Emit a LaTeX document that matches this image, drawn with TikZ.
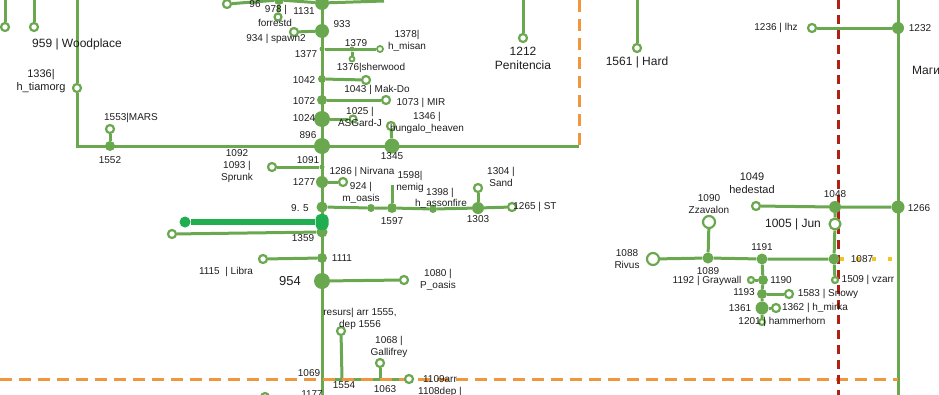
\documentclass[tikz,border=0pt]{standalone}
\usepackage{fontspec}
\setmainfont{Liberation Sans}
\usetikzlibrary{backgrounds}
\definecolor{lgreen}{RGB}{106,168,79}
\definecolor{bgreen}{RGB}{32,174,80}
\definecolor{dorange}{RGB}{240,150,60}
\definecolor{dred}{RGB}{178,32,20}
\definecolor{dyellow}{RGB}{245,195,40}
\definecolor{ink}{RGB}{30,30,30}

\begin{document}
\begin{tikzpicture}[
  x=1pt, y=-1pt,
  every node/.style={font=\fontsize{10}{12}\selectfont, text=ink, inner sep=0pt, align=center},
  big/.style={font=\fontsize{12}{14}\selectfont},
  route/.style={draw=lgreen, line width=3pt},
  hub/.style={circle, fill=lgreen, minimum size=#1},
  hub/.default=12pt,
  term/.style={circle, draw=lgreen, fill=white, line width=2.2pt, minimum size=#1},
  term/.default=8pt
]
\useasboundingbox (0,0) rectangle (939,394);

% ── Top strip ─────────────────────────────────────────────────────────────
\node[term] (n96) at (227,4) {};
\node (l96) at (255,4) {96};
\node[hub=10pt] (n978) at (279,0) {};
\node[term=7pt] (n978b) at (278,17) {};
\node (l978) at (276,10) {978 |};
\node (lforrest) at (275,23) {forrestd};
\node[hub=14pt] (n1131) at (322,3) {};
\node (l1131) at (304,11) {1131};
\coordinate (topE) at (384,1);

% ── Top left ──────────────────────────────────────────────────────────────
\coordinate (a5) at (5,-5);
\coordinate (a34) at (34,-5);
\coordinate (a77) at (77,-5);
\node[term] (n957) at (5,27) {};
\node[term] (n959) at (34,27) {};
\node[big] (l959) at (77,44) {959 | Woodplace};
\node[term] (n1336) at (77,88) {};
\node[big, font=\fontsize{11}{13}\selectfont] (l1336) at (41,81) {1336|\\h\_tiamorg};
\coordinate (w896) at (77,146);
\coordinate (e896) at (579,146);
\node[hub=10pt] (n1552) at (110,146) {};
\node (l1552) at (110,160) {1552};
\node[term] (n1553) at (110,129) {};
\node (l1553) at (131,118) {1553|MARS};

% ── Main trunk, upper part ───────────────────────────────────────────────
\coordinate (ttop) at (322,-5);
\coordinate (tbot) at (322,400);
\node[hub=14pt] (n933) at (322,31) {};
\node (l933) at (342,24) {933};
\node[term] (n934) at (294,32) {};
\node (l934) at (276,39) {934 | spawn2};
\node[hub=5pt] (n1377) at (322,49) {};
\node (l1377) at (306,54) {1377};
\node[hub=5pt] (n1379) at (352,49) {};
\node (l1379) at (356,43) {1379};
\node[term=5pt, line width=1.8pt] (n1376) at (352,59) {};
\node (l1376) at (371,68) {1376|sherwood};
\node[term=6pt, line width=1.8pt] (n1378) at (380,49) {};
\node (l1378) at (407,41) {1378|\\h\_misan};
\node[hub=8pt] (n1042) at (322,79) {};
\node (l1042) at (304,80) {1042};
\node[term] (n1043) at (366,80) {};
\node (l1043) at (377,90) {1043 | Mak-Do};
\node[hub=10pt] (n1072) at (322,100) {};
\node (l1072) at (304,101) {1072};
\node[term] (n1073) at (386,100) {};
\node (l1073) at (421,103) {1073 | MIR};
\node[hub=16pt] (n1024) at (322,119) {};
\node (l1024) at (304,118) {1024};
\node[term=7pt] (n1025) at (353,119) {};
\node (l1025) at (360,117) {1025 |\\ASGard-J};
\node[hub=16pt] (n896) at (322,146) {};
\node (l896) at (308,135) {896};
\node[hub=15pt] (n1345) at (392,146) {};
\node (l1345) at (392,156) {1345};
\node[term] (n1346) at (391,126) {};
\node (l1346) at (427,123) {1346 |\\bungalo\_heaven};

% ── Main trunk, middle part ──────────────────────────────────────────────
\node[hub=5pt] (n1091) at (322,167) {};
\node (l1091) at (308,160) {1091};
\node[term] (n1093) at (272,167) {};
\node (l1093) at (237,166) {1092\\1093 |\\Sprunk};
\node[hub=12pt] (n1277) at (322,182) {};
\node (l1277) at (304,182) {1277};
\node[term] (n924) at (343,182) {};
\node (l1286) at (362,172) {1286 | Nirvana};
\node (l924) at (361,193) {924 |\\m\_oasis};
\node[hub=11pt] (n955) at (322,207) {};
\node (l955) at (300,208) {9. 5};
\node[hub=8pt] (n1599) at (371,208) {};
\node[hub=10pt] (n1597) at (392,208) {};
\node (l1597) at (392,221) {1597};
\coordinate (c1598) at (392,185);
\node (l1598) at (410,182) {1598|\\nemig};
\node[hub=8pt] (n1398) at (433,209) {};
\node (l1398) at (440,193) {1398 |};
\node (lhass) at (441,204) {h\_assonfire};
\node[hub=12pt] (n1303) at (478,208) {};
\node (l1303) at (478,219) {1303};
\node[term] (n1304) at (478,188) {};
\node (l1304) at (501,177) {1304 |\\Sand};
\node[term] (n1265) at (512,207) {};
\node (l1265) at (535,207) {1265 | ST};

% ── Highlighted link ─────────────────────────────────────────────────────
\node[hub=11pt] (n1359g) at (322,232) {};
\node[rectangle, rounded corners=5pt, fill=bgreen, minimum width=13pt, minimum height=16pt] (n1359) at (322,222) {};
\node[circle, fill=bgreen, minimum size=11pt] (nhl) at (185,222) {};
\node[term] (n1359t) at (172,234) {};
\node (l1359) at (303,238) {1359};

% ── Main trunk, lower part ───────────────────────────────────────────────
\node[hub=10pt] (n1111) at (322,258) {};
\node (l1111) at (342,258) {1111};
\node[term] (n1115) at (263,259) {};
\node (l1115) at (226,272) {1115 \ | Libra};
\node[hub=16pt] (n954) at (322,281) {};
\node[font=\fontsize{13}{15}\selectfont] (l954) at (290,281) {954};
\node[term] (n1080) at (404,280) {};
\node (l1080) at (438,280) {1080 |\\P\_oasis};
\node[term] (nres) at (341,331) {};
\node (lres) at (360,319) {resurs| arr 1555,\\dep 1556};
\coordinate (c1554) at (342,379);
\node (l1554) at (344,385) {1554};
\node[term] (n1068) at (380,363) {};
\node (l1068) at (389,347) {1068 |\\Gallifrey};
\coordinate (c1063) at (380,379);
\node (l1063) at (385,389) {1063};
\coordinate (c1069) at (322,379);
\node (l1069) at (309,373) {1069};
\node[term] (n1109) at (409,379) {};
\node (l1109) at (440,379) {1109arr};
\node (l1108) at (440,392) {1108dep |};
\node (l1177) at (312,394) {1177};
\node[term] (n1057) at (265,397) {};

% ── Right part ───────────────────────────────────────────────────────────
\coordinate (a523) at (523,-5);
\node[term] (n1212) at (523,38) {};
\node[big] (l1212) at (523,58) {1212\\Penitencia};
\coordinate (a637) at (637,-5);
\node[term] (n1561) at (637,48) {};
\node[big] (l1561) at (637,62) {1561 | Hard};
\coordinate (a898) at (898,-5);
\coordinate (b898) at (898,400);
\node[hub=12pt] (n1232) at (898,28) {};
\node (l1232) at (920,28) {1232};
\node[term] (n1236) at (812,28) {};
\node (l1236) at (776,28) {1236 | lhz};
\node[big] (lmagi) at (926,70) {Маги};
\node[hub=13pt] (n1266) at (898,207) {};
\node (l1266) at (919,208) {1266};
\node[hub=12pt] (n1048) at (835,207) {};
\node (l1048) at (835,194) {1048};
\node[term] (n1049) at (756,206) {};
\node[font=\fontsize{11}{13}\selectfont] (l1049) at (752,183) {1049\\hedestad};
\node[term=11pt] (n1005) at (835,224) {};
\node[big] (l1005) at (793,224) {1005 | Jun};
\node[hub=11pt] (n1087) at (834,259) {};
\node (l1087) at (862,259) {1087};
\coordinate (e1087) at (900,259);
\node[term=12pt] (n1088) at (653,259) {};
\node (l1088) at (627,259) {1088\\Rivus};
\node[hub=11pt] (n1089) at (708,258) {};
\node (l1089) at (708,271) {1089};
\node[term=12pt] (n1090) at (709,222) {};
\node (l1090) at (709,204) {1090\\Zzavalon};
\node[hub=11pt] (n1191) at (762,259) {};
\node (l1191) at (762,247) {1191};
\node[hub=10pt] (n1190) at (763,280) {};
\node (l1190) at (781,280) {1190};
\node[term=6pt] (n1192) at (751,280) {};
\node (l1192) at (707,281) {1192 | Graywall};
\node[hub=10pt] (n1193) at (762,294) {};
\node (l1193) at (744,292) {1193};
\node[term] (n1583) at (789,294) {};
\node (l1583) at (828,294) {1583 | Snowy};
\node[hub=13pt] (n1361) at (762,308) {};
\node (l1361) at (740,308) {1361};
\node[term] (n1362) at (776,308) {};
\node (l1362) at (815,308) {1362 | h\_mirka};
\node[term=6pt] (n1201) at (762,322) {};
\node (l1201) at (782,322) {1201 | hammerhorn};
\node[term=6pt] (n1509) at (835,280) {};
\node (l1509) at (868,280) {1509 | vzarr};

% ── Connectors (behind the stops) ────────────────────────────────────────
\begin{scope}[on background layer]
  \draw[route] (ttop) -- (tbot);
  \draw[route] (n96) -- (n978) -- (n1131) -- (topE);
  \draw[route] (n978) -- (n978b);
  \draw[route] (a5) -- (n957);
  \draw[route] (a34) -- (n959);
  \draw[route] (a77) -- (n1336) -- (w896) -- (e896);
  \draw[route] (n1552) -- (n1553);
  \draw[route] (n934) -- (n933);
  \draw[route] (n1377) -- (n1378);
  \draw[route] (n1379) -- (n1376);
  \draw[route] (n1042) -- (n1043);
  \draw[route] (n1072) -- (n1073);
  \draw[route] (n1024) -- (n1025);
  \draw[route] (n1345) -- (n1346);
  \draw[route] (n1093) -- (n1091);
  \draw[route] (n1277) -- (n924);
  \draw[route] (n955) -- (n1599) -- (n1597) -- (n1398) -- (n1303) -- (n1265);
  \draw[route] (n1597) -- (c1598);
  \draw[route] (n1303) -- (n1304);
  \draw[route] (n1359t) -- (n1359g);
  \draw[draw=bgreen, line width=6pt] (nhl) -- (n1359);
  \draw[route] (n1115) -- (n1111);
  \draw[route] (n954) -- (n1080);
  \draw[route] (nres) -- (c1554);
  \draw[route] (n1068) -- (c1063);
  \draw[route] (c1069) -- (n1109);
  \draw[route] (a523) -- (n1212);
  \draw[route] (a637) -- (n1561);
  \draw[route] (a898) -- (b898);
  \draw[route] (n1236) -- (n1232);
  \draw[route] (n1049) -- (n1048) -- (n1266);
  \draw[route] (n1048) -- (n1005) -- (n1087) -- (n1509);
  \draw[route] (n1088) -- (n1089) -- (n1191) -- (n1087);
  \draw[route] (n1089) -- (n1090);
  \draw[route] (n1191) -- (n1190) -- (n1193) -- (n1361) -- (n1201);
  \draw[route] (n1192) -- (n1190);
  \draw[route] (n1193) -- (n1583);
  \draw[route] (n1361) -- (n1362);
  % boundaries
  \draw[dorange, line width=3pt, dash pattern=on 12pt off 7pt] (0,379) -- (898,379);
  \draw[dorange, line width=3pt, dash pattern=on 12pt off 7pt] (579,0) -- (579,146);
  \draw[dred, line width=3pt, dash pattern=on 9pt off 6pt] (838,0) -- (838,400);
  \draw[dyellow, line width=4pt, dash pattern=on 4pt off 12pt] (n1087) -- (e1087);
\end{scope}

\end{tikzpicture}
\end{document}
